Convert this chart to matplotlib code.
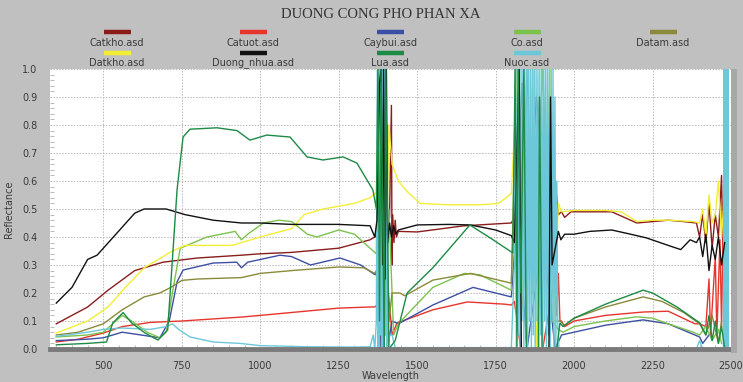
import matplotlib
matplotlib.use("Agg")
import matplotlib.pyplot as plt
from matplotlib.lines import Line2D
from matplotlib.ticker import MultipleLocator

# Series: (wavelength, reflectance)
CATKHO_WL = [350, 400, 450, 515, 600, 690, 800, 940, 1000, 1100, 1250, 1350, 1365, 1375, 1385, 1395,
             1405, 1412, 1418, 1420, 1422, 1426, 1430, 1434, 1440, 1500, 1650, 1800, 1810, 1820, 1835,
             1850, 1880, 1910, 1940, 1950, 1960, 1970, 1990, 2050, 2120, 2150, 2200, 2250, 2300, 2350,
             2390, 2400, 2410, 2420, 2430, 2440, 2450, 2460, 2470, 2475, 2480]
CATKHO_R = [0.09, 0.12, 0.15, 0.21, 0.28, 0.31, 0.325, 0.335, 0.34, 0.345, 0.36, 0.39, 0.40, 0.42, 0.35, 0.45,
            0.40, 0.47, 0.87, 0.30, 0.48, 0.38, 0.46, 0.40, 0.42, 0.418, 0.44, 0.45, 0.47, 0.60, 0.95,
            0.30, 0.90, 0.50, 0.60, 0.48, 0.49, 0.47, 0.49, 0.49, 0.49, 0.475, 0.45, 0.455, 0.46, 0.455,
            0.45, 0.40, 0.48, 0.38, 0.52, 0.36, 0.48, 0.40, 0.62, 0.30, 0.55]

CATUOT_WL = [350, 420, 500, 560, 650, 750, 940, 1000, 1250, 1350, 1365, 1375, 1380, 1390, 1400, 1410,
             1420, 1436, 1550, 1660, 1780, 1800, 1810, 1830, 1900, 1940, 1945, 1950, 1955, 1960, 1970,
             2000, 2100, 2220, 2300, 2385, 2400, 2420, 2430, 2435, 2450, 2455, 2465, 2470, 2475, 2480]
CATUOT_R = [0.025, 0.035, 0.057, 0.08, 0.095, 0.10, 0.114, 0.12, 0.146, 0.15, 0.15, 0.16, 0.0, 0.2, 0.3, 0.18,
            0.05, 0.093, 0.14, 0.168, 0.16, 0.157, 0.17, 0.0, 0.0, 0.27, 0.12, 0.27, 0.10, 0.10, 0.08,
            0.10, 0.12, 0.132, 0.135, 0.09, 0.09, 0.08, 0.25, 0.05, 0.33, 0.05, 0.39, 0.08, 0.43, 0.10]

CAYBUI_WL = [350, 450, 500, 560, 620, 680, 710, 735, 754, 850, 925, 940, 960, 1063, 1100, 1160, 1254,
             1320, 1366, 1380, 1385, 1395, 1405, 1420, 1440, 1550, 1678, 1800, 1820, 1850, 1900, 1940,
             1960, 2000, 2100, 2220, 2300, 2400, 2410, 2430]
CAYBUI_R = [0.03, 0.035, 0.04, 0.06, 0.05, 0.04, 0.10, 0.24, 0.282, 0.307, 0.31, 0.29, 0.31, 0.335, 0.33, 0.30, 0.325,
            0.30, 0.265, 0.30, 0.0, 0.5, 0.0, 0.10, 0.09, 0.157, 0.22, 0.186, 0.5, 0.0, 0.4, 0.0,
            0.05, 0.06, 0.085, 0.104, 0.09, 0.043, 0.02, 0.05]

CO_WL = [350, 450, 500, 540, 560, 590, 640, 680, 700, 720, 745, 830, 920, 940, 960, 1010, 1060, 1100,
         1150, 1180, 1250, 1300, 1340, 1370, 1376, 1380, 1384, 1390, 1395, 1400, 1410, 1425, 1440, 1550,
         1650, 1700, 1800, 1815, 1830, 1850, 1870, 1900, 1930, 1950, 1965, 2000, 2100, 2200, 2250, 2300,
         2380, 2400, 2420, 2440, 2460, 2470]
CO_R = [0.043, 0.05, 0.06, 0.10, 0.12, 0.10, 0.06, 0.04, 0.06, 0.20, 0.36, 0.40, 0.42, 0.39, 0.41, 0.45, 0.46, 0.455,
        0.41, 0.40, 0.425, 0.41, 0.37, 0.34, 1.0, 0.1, 1.0, 0.2, 1.0, 0.05, 0.5, 0.05, 0.09, 0.22,
        0.27, 0.265, 0.21, 1.0, 0.3, 1.0, 0.2, 1.0, 0.1, 0.07, 0.06, 0.08, 0.10, 0.115, 0.11, 0.09,
        0.06, 0.05, 0.08, 0.03, 0.07, 0.02]

DATAM_WL = [350, 420, 500, 560, 630, 680, 715, 750, 800, 940, 1000, 1100, 1250, 1330, 1365, 1380, 1390,
            1400, 1410, 1420, 1445, 1460, 1550, 1670, 1800, 1815, 1830, 1890, 1930, 1955, 1970, 2000,
            2100, 2220, 2280, 2350, 2400, 2420, 2440, 2460, 2470]
DATAM_R = [0.05, 0.06, 0.09, 0.14, 0.186, 0.20, 0.22, 0.245, 0.25, 0.255, 0.27, 0.28, 0.293, 0.29, 0.27, 0.30, 0.05,
           0.60, 0.10, 0.20, 0.20, 0.19, 0.246, 0.27, 0.235, 0.80, 0.10, 0.90, 0.10, 0.10, 0.085, 0.11,
           0.15, 0.186, 0.17, 0.13, 0.09, 0.05, 0.12, 0.02, 0.10]

DATKHO_WL = [350, 450, 515, 570, 630, 720, 760, 910, 940, 1000, 1100, 1140, 1200, 1300, 1350, 1370, 1380,
             1385, 1392, 1400, 1410, 1420, 1440, 1470, 1510, 1600, 1700, 1760, 1800, 1820, 1830, 1870,
             1880, 1925, 1935, 1950, 1960, 2000, 2100, 2150, 2200, 2250, 2300, 2380, 2400, 2410, 2420,
             2430, 2440, 2450, 2460, 2470, 2480]
DATKHO_R = [0.057, 0.10, 0.15, 0.22, 0.29, 0.35, 0.37, 0.37, 0.38, 0.40, 0.43, 0.48, 0.50, 0.52, 0.54, 0.56, 1.0,
            0.30, 1.0, 0.10, 0.80, 0.66, 0.60, 0.56, 0.52, 0.515, 0.515, 0.52, 0.555, 1.0, 0.10, 1.0,
            0.0, 1.0, 0.10, 0.52, 0.49, 0.495, 0.495, 0.49, 0.455, 0.46, 0.46, 0.455, 0.45, 0.50, 0.40,
            0.55, 0.45, 0.48, 0.60, 0.40, 0.57]

DUONG_WL = [350, 400, 450, 480, 540, 600, 630, 700, 760, 850, 940, 1000, 1100, 1250, 1350, 1365, 1372,
            1380, 1385, 1390, 1393, 1398, 1402, 1406, 1412, 1418, 1425, 1432, 1440, 1500, 1600, 1670,
            1750, 1800, 1810, 1825, 1832, 1920, 1925, 1930, 1950, 1958, 1970, 2000, 2050,
            2120, 2180, 2230, 2300, 2340, 2370, 2390, 2400, 2410, 2420, 2430, 2440, 2450, 2460, 2470, 2480]
DUONG_R = [0.164, 0.22, 0.32, 0.335, 0.41, 0.485, 0.50, 0.50, 0.48, 0.46, 0.45, 0.45, 0.445, 0.445, 0.44, 0.40, 0.46,
           0.95, 1.0, 0.30, 1.0, 0.25, 1.0, 0.38, 0.45, 0.40, 0.44, 0.41, 0.425, 0.443, 0.445, 0.443,
           0.425, 0.405, 0.38, 1.0, 0.0, 0.0, 0.90, 0.30, 0.42, 0.39, 0.41, 0.41, 0.42,
           0.425, 0.41, 0.397, 0.37, 0.355, 0.39, 0.38, 0.40, 0.33, 0.41, 0.28, 0.37, 0.32, 0.40, 0.30, 0.38]

LUA_WL = [350, 450, 510, 530, 563, 590, 633, 674, 705, 735, 754, 776, 862, 926, 967, 1021, 1095, 1149,
          1200, 1264, 1308, 1359, 1370, 1375, 1380, 1385, 1395, 1400, 1410, 1430, 1468, 1550, 1668, 1742,
          1805, 1812, 1818, 1822, 1830, 1840, 1848, 1886, 1890, 1898, 1945, 1955, 1965, 2000,
          2100, 2220, 2250, 2328, 2401, 2420, 2430, 2440, 2450, 2460, 2470, 2480]
LUA_R = [0.015, 0.02, 0.025, 0.093, 0.13, 0.093, 0.057, 0.032, 0.068, 0.57, 0.757, 0.785, 0.79, 0.78, 0.746, 0.764, 0.757, 0.686,
         0.675, 0.686, 0.664, 0.568, 0.50, 1.0, 0.10, 1.0, 0.0, 1.0, 0.0, 0.03, 0.20, 0.29, 0.443, 0.39,
         0.343, 1.0, 0.0, 1.0, 0.20, 1.0, 0.0, 0.0, 0.90, 0.0, 0.0, 0.093, 0.08, 0.11,
         0.16, 0.21, 0.20, 0.15, 0.093, 0.05, 0.12, 0.03, 0.10, 0.02, 0.08, 0.0]

NUOC_WL = [350, 450, 500, 560, 650, 700, 720, 740, 776, 850, 935, 1000, 1150, 1300, 1350, 1360, 1365,
           1370, 1373, 1375, 1377, 1379, 1381, 1383, 1385, 1387, 1389, 1391, 1393, 1395, 1397, 1399,
           1401, 1403, 1405, 1407, 1412, 1420, 1430, 1800, 1810, 1813, 1816, 1819, 1822, 1825, 1828,
           1831, 1834, 1837, 1840, 1843, 1846, 1849, 1852, 1855, 1858, 1861, 1864, 1867, 1870, 1873,
           1876, 1879, 1882, 1885, 1888, 1891, 1894, 1897, 1900, 1903, 1906, 1909, 1912, 1915, 1918,
           1921, 1924, 1927, 1930, 1933, 1936, 1939, 1942, 1945, 1948, 1952, 2390, 2400, 2410, 2476,
           2478, 2480, 2482, 2484, 2486, 2488, 2490, 2492]
NUOC_R = [0.045, 0.06, 0.07, 0.075, 0.07, 0.08, 0.09, 0.07, 0.043, 0.025, 0.02, 0.012, 0.008, 0.007, 0.008, 0.05, 0.0,
          0.10, 1.0, 0.0, 1.0, 0.0, 1.0, 0.05, 1.0, 0.0, 1.0, 0.0, 1.0, 0.0, 1.0, 0.05,
          1.0, 0.0, 0.80, 0.0, 0.05, 0.05, 0.005, 0.005, 0.30, 1.0, 0.0, 1.0, 0.05, 1.0, 0.0,
          1.0, 0.10, 1.0, 0.0, 1.0, 0.05, 1.0, 0.0, 1.0, 0.10, 1.0, 0.0, 1.0, 0.05, 1.0,
          0.0, 1.0, 0.10, 1.0, 0.0, 1.0, 0.05, 1.0, 0.0, 1.0, 0.10, 1.0, 0.0, 1.0, 0.05,
          1.0, 0.0, 1.0, 0.10, 1.0, 0.0, 0.90, 0.0, 0.60, 0.10, 0.0, 0.0, 0.03, 0.0, 0.0,
          1.0, 0.0, 1.0, 0.0, 1.0, 0.0, 1.0, 0.0]

NAMES = ["Catkho.asd", "Catuot.asd", "Caybui.asd", "Co.asd", "Datam.asd",
         "Datkho.asd", "Duong_nhua.asd", "Lua.asd", "Nuoc.asd"]
COLORS = ["#8b1c1c", "#e8352c", "#3d4fa3", "#7cc24e", "#8a8a3a",
          "#f2ee36", "#111111", "#1d8a45", "#6cc8d8"]
SERIES = [(CATKHO_WL, CATKHO_R), (CATUOT_WL, CATUOT_R), (CAYBUI_WL, CAYBUI_R), (CO_WL, CO_R),
          (DATAM_WL, DATAM_R), (DATKHO_WL, DATKHO_R), (DUONG_WL, DUONG_R), (LUA_WL, LUA_R),
          (NUOC_WL, NUOC_R)]
# Nuoc sits under the black and rice spectra in the water bands
ZORDERS = [2, 2, 2, 2, 2, 2, 2.2, 2.2, 2.1]

BG = "#c0c0c0"
TXT = "#3a3a3a"

fig = plt.figure(figsize=(7.43, 3.82), dpi=100, facecolor=BG)
ax = fig.add_axes([0.0673, 0.0864, 0.9165, 0.733])
ax.set_facecolor("white")

for (wl, r), c, z in zip(SERIES, COLORS, ZORDERS):
    ax.plot(wl, r, color=c, linewidth=1.0, zorder=z)

ax.set_xlim(330, 2500)
ax.set_ylim(0, 1.0)
ax.xaxis.set_major_locator(MultipleLocator(250))
ax.xaxis.set_minor_locator(MultipleLocator(50))
ax.yaxis.set_major_locator(MultipleLocator(0.1))
ax.yaxis.set_minor_locator(MultipleLocator(0.02))
ax.yaxis.set_major_formatter(lambda v, p: f"{v:.1f}")
ax.grid(True, which="major", color="#b8b8b8", linestyle=(0, (1.5, 1.5)), linewidth=0.7)
ax.tick_params(axis="both", which="major", length=0, labelsize=7, labelcolor=TXT, pad=9)
ax.tick_params(axis="both", which="minor", length=3, direction="in", color="#b0b0b0", width=0.6)

for s in ["top", "right", "left"]:
    ax.spines[s].set_visible(False)
ax.spines["bottom"].set_color("#7a7a7a")
ax.spines["bottom"].set_linewidth(3.5)

ax.set_xlabel("Wavelength", fontsize=7, color=TXT, labelpad=0)
ax.set_ylabel("Reflectance", fontsize=7, color=TXT, labelpad=6)

# shadow on right edge of plot
fig.patches.append(plt.Rectangle((0.9838, 0.075), 0.008, 0.745, transform=fig.transFigure,
                                 facecolor="#a8a8a8", edgecolor="none"))

fig.text(0.512, 0.962, "DUONG CONG PHO PHAN XA", ha="center", va="center",
         fontsize=10.5, family="Liberation Serif", color="#333333")

# legend: 5 columns x 2 rows, swatch above label
col_x = [117, 253, 390, 527, 663]
rows = [(32, 43), (53, 63)]
for i, (name, c) in enumerate(zip(NAMES, COLORS)):
    cx = col_x[i % 5] / 743
    ly, ty = rows[i // 5]
    fig.add_artist(Line2D([cx - 13.5 / 743, cx + 13.5 / 743], [1 - ly / 382] * 2,
                          color=c, linewidth=3.2, transform=fig.transFigure, solid_capstyle="butt"))
    fig.text(cx, 1 - ty / 382, name, ha="center", va="center", fontsize=7, color=TXT)

fig.savefig("out.png", dpi=100, facecolor=BG)
